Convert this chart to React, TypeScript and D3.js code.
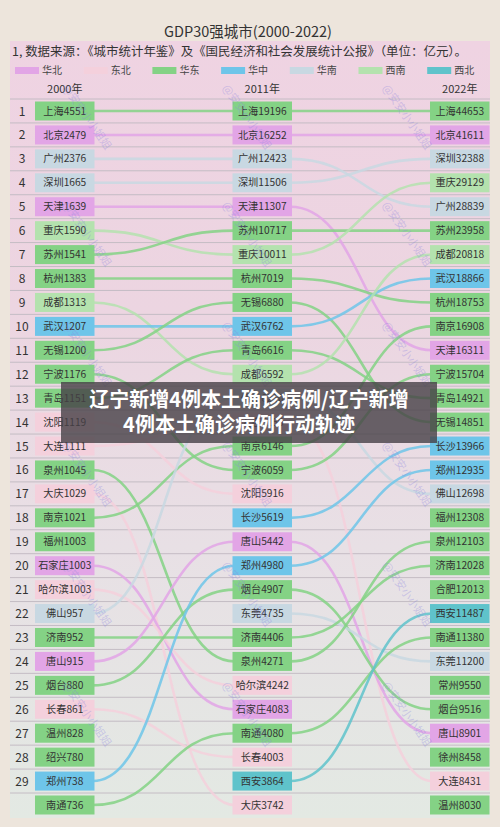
import React from 'react';
import * as d3 from 'd3';

const title = 'GDP30强城市(2000-2022)';
const subtitle = '1, 数据来源：《城市统计年鉴》及《国民经济和社会发展统计公报》（单位：亿元）。';
const years = ['2000年', '2011年', '2022年'];
const regions = ['华北', '东北', '华东', '华中', '华南', '西南', '西北'];
const regionColors = ['#e2a5e6', '#f4d0dc', '#84d285', '#6ec5e9', '#c8d8e2', '#b4e2ae', '#5fc3cb'];

const huabei = ['北京', '天津', '石家庄', '唐山'];
const dongbei = ['沈阳', '大连', '大庆', '哈尔滨', '长春'];
const huadong = ['上海', '苏州', '杭州', '无锡', '宁波', '青岛', '泉州', '南京', '福州', '济南', '烟台', '温州', '绍兴', '南通', '合肥', '常州', '徐州'];
const huazhong = ['武汉', '郑州', '长沙'];
const huanan = ['广州', '深圳', '佛山', '东莞'];
const xinan = ['重庆', '成都'];
const xibei = ['西安'];
const regionCities = [huabei, dongbei, huadong, huazhong, huanan, xinan, xibei];

const cities2000 = ['上海', '北京', '广州', '深圳', '天津', '重庆', '苏州', '杭州', '成都', '武汉', '无锡', '宁波', '青岛', '沈阳', '大连', '泉州', '大庆', '南京', '福州', '石家庄', '哈尔滨', '佛山', '济南', '唐山', '烟台', '长春', '温州', '绍兴', '郑州', '南通'];
const values2000 = [4551, 2479, 2376, 1665, 1639, 1590, 1541, 1383, 1313, 1207, 1200, 1176, 1151, 1119, 1111, 1045, 1029, 1021, 1003, 1003, 1003, 957, 952, 915, 880, 861, 828, 780, 738, 736];

const cities2011 = ['上海', '北京', '广州', '深圳', '天津', '苏州', '重庆', '杭州', '无锡', '武汉', '青岛', '成都', '佛山', '大连', '南京', '宁波', '沈阳', '长沙', '唐山', '郑州', '烟台', '东莞', '济南', '泉州', '哈尔滨', '石家庄', '南通', '长春', '西安', '大庆'];
const values2011 = [19196, 16252, 12423, 11506, 11307, 10717, 10011, 7019, 6880, 6762, 6616, 6592, 6210, 6150, 6146, 6059, 5916, 5619, 5442, 4980, 4907, 4735, 4406, 4271, 4242, 4083, 4080, 4003, 3864, 3742];

const cities2022 = ['上海', '北京', '深圳', '重庆', '广州', '苏州', '成都', '武汉', '杭州', '南京', '天津', '宁波', '青岛', '无锡', '长沙', '郑州', '佛山', '福州', '泉州', '济南', '合肥', '西安', '南通', '东莞', '常州', '烟台', '唐山', '徐州', '大连', '温州'];
const values2022 = [44653, 41611, 32388, 29129, 28839, 23958, 20818, 18866, 18753, 16908, 16311, 15704, 14921, 14851, 13966, 12935, 12698, 12308, 12103, 12028, 12013, 11487, 11380, 11200, 9550, 9516, 8901, 8458, 8431, 8030];

const rankLabels = d3.range(1, 30).map(String);
const bannerLines = ['辽宁新增4例本土确诊病例/辽宁新增', '4例本土确诊病例行动轨迹'];
const watermark = '@安安小小姐姐';

const W = 500;
const H = 827;
const FONT = '"Noto Sans CJK SC", "Noto Sans", sans-serif';

function colorOf(city: string): string {
  const idx = regionCities.findIndex((list) => list.includes(city));
  return idx >= 0 ? regionColors[idx] : '#ccc';
}

export default function App() {
  const columns = [
    { cities: cities2000, values: values2000 },
    { cities: cities2011, values: values2011 },
    { cities: cities2022, values: values2022 },
  ];
  const y = d3.scalePoint<number>().domain(d3.range(30)).range([111, 805]);
  const x = d3.scalePoint<string>().domain(years).range([35, 430]);
  const boxW = 59.5;
  const boxH = 19;
  const link = d3
    .linkHorizontal<any, [number, number]>()
    .source((d: any) => d.s)
    .target((d: any) => d.t);

  const links: { d: string; color: string; key: string }[] = [];
  for (let c = 0; c < 2; c++) {
    const left = columns[c];
    const right = columns[c + 1];
    const x0 = (x(years[c]) as number) + boxW;
    const x1 = x(years[c + 1]) as number;
    left.cities.forEach((city, i) => {
      const j = right.cities.indexOf(city);
      if (j < 0) return;
      links.push({
        key: `${c}-${city}`,
        color: colorOf(city),
        d: link({ s: [x0 - 2, y(i) as number], t: [x1 + 2, y(j) as number] } as any) as string,
      });
    });
  }

  const wmX = [62, 222, 382];
  const wmY = [88, 205, 325, 445, 565, 685];

  return (
    <svg width={W} height={H} style={{ position: 'absolute', left: 0, top: 0 }} fontFamily={FONT}>
      <defs>
        <linearGradient id="panelGrad" x1="0" y1="0" x2="0" y2="1">
          <stop offset="0%" stopColor="#efd3e2" />
          <stop offset="35%" stopColor="#ecd5e1" />
          <stop offset="65%" stopColor="#e8e0e5" />
          <stop offset="100%" stopColor="#e3e9e3" />
        </linearGradient>
      </defs>
      <rect x={0} y={0} width={W} height={H} fill="#ede5dc" />
      <rect x={10} y={41} width={480} height={777} fill="url(#panelGrad)" />
      <text x={248} y={37} textAnchor="middle" fontSize={14.5} fill="#333">
        {title}
      </text>
      <text x={12} y={56} fontSize={12.2} fill="#333" textLength={455} lengthAdjust="spacingAndGlyphs">
        {subtitle}
      </text>
      {regions.map((r, i) => (
        <g key={r} transform={`translate(${15 + i * 68.7},0)`}>
          <rect x={0} y={67} width={24} height={7} fill={regionColors[i]} />
          <text x={27} y={74} fontSize={10} fill="#444">
            {r}
          </text>
        </g>
      ))}
      {years.map((yr) => (
        <text key={yr} x={(x(yr) as number) + boxW / 2} y={93} textAnchor="middle" fontSize={11} fill="#333">
          {yr}
        </text>
      ))}
      {d3.range(30).map((i) => (
        <line key={i} x1={10} x2={490} y1={(y(i) as number) - 12} y2={(y(i) as number) - 12} stroke="#c4bcc4" strokeWidth={1} />
      ))}
      {rankLabels.map((r, i) => (
        <text key={r} x={22} y={(y(i) as number) + 4.5} textAnchor="middle" fontSize={12} fill="#333">
          {r}
        </text>
      ))}
      <g fill="none" strokeWidth={2.6} strokeOpacity={0.85}>
        {links.map((l) => (
          <path key={l.key} d={l.d} stroke={l.color} />
        ))}
      </g>
      {columns.map((col, c) => (
        <g key={c}>
          {col.cities.map((city, i) => (
            <g key={city} transform={`translate(${x(years[c])},${(y(i) as number) - boxH / 2})`}>
              <rect width={boxW} height={boxH} fill={colorOf(city)} />
              <text x={boxW / 2} y={boxH / 2 + 3.6} textAnchor="middle" fontSize={10.2} fill="#333">
                {city}
                {col.values[i]}
              </text>
            </g>
          ))}
        </g>
      ))}
      <g fontSize={11} fill="#8c86e0" fillOpacity={0.35}>
        {wmX.map((wx) =>
          wmY.map((wy) => (
            <text key={`${wx}-${wy}`} transform={`translate(${wx},${wy}) rotate(55)`}>
              {watermark}
            </text>
          ))
        )}
      </g>
      <rect x={61} y={382} width={376} height={61} fill="rgb(70,64,70)" fillOpacity={0.8} />
      <text x={249} y={407} textAnchor="middle" fontSize={20} fontWeight="bold" fill="#fff">
        {bannerLines[0]}
      </text>
      <text x={239} y={432} textAnchor="middle" fontSize={20} fontWeight="bold" fill="#fff">
        {bannerLines[1]}
      </text>
    </svg>
  );
}
